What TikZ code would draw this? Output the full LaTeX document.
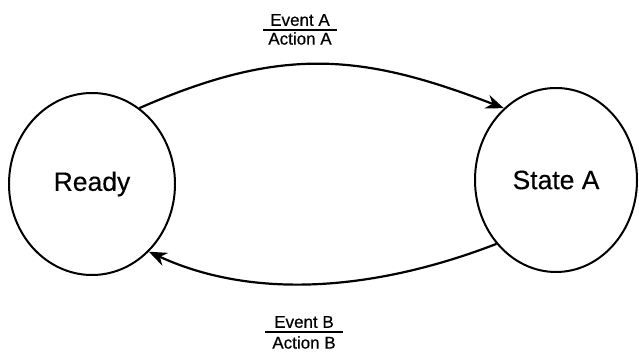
\documentclass[tikz,border=0pt]{standalone}
\usepackage{fontspec}
\setmainfont{Liberation Sans}
\newfontfamily\lblfont[FakeBold=0.6]{Liberation Sans}
\newfontfamily\statefont[FakeBold=0.3]{Liberation Sans}
\usetikzlibrary{shapes.geometric,arrows.meta}
\begin{document}
\begin{tikzpicture}[x=1pt,y=-1pt,
  state/.style={draw,ellipse,line width=2pt,inner sep=0pt,font=\statefont\fontsize{26.5}{30}\selectfont},
  trans/.style={line width=2.2pt,-{Stealth[length=18pt,width=14pt]}},
  lbl/.style={inner sep=0pt,font=\lblfont\fontsize{17}{20}\selectfont},
  bar/.style={line width=1.8pt}]
\useasboundingbox (0,0) rectangle (639,352);
\node[state,minimum width=166pt,minimum height=182pt] (ready) at (92,184) {Ready};
\node[state,minimum width=162pt,minimum height=184pt] (statea) at (556,180) {State A};
\draw[trans] (ready.58) .. controls (281,46) and (361,53) .. (statea.126);
\draw[trans] (statea.-133) .. controls (385,287) and (260,303) .. (ready.-50);
\node[lbl] (ea) at (300,20) {Event A};
\node[lbl] (aa) at (300,38.5) {Action A};
\coordinate (ea1) at (263,30);
\coordinate (ea2) at (337,30);
\draw[bar] (ea1) -- (ea2);
\node[lbl] (eb) at (304,322) {Event B};
\node[lbl] (ab) at (304,342.5) {Action B};
\coordinate (eb1) at (265,332);
\coordinate (eb2) at (343,332);
\draw[bar] (eb1) -- (eb2);
\end{tikzpicture}
\end{document}
